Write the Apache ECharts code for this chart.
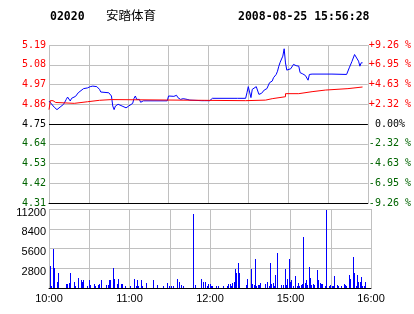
<!DOCTYPE html>
<html><head><meta charset="utf-8">
<script src="https://cdn.jsdelivr.net/npm/echarts@6/dist/echarts.min.js"></script>
<style>html,body{margin:0;padding:0;background:#fff}#c{width:414px;height:314px}</style>
</head><body><div id="c"></div>
<script>
const stockCode = '02020';
const stockName = '安踏体育';
const stamp = '2008-08-25 15:56:28';
const prevClose = 4.75;
const priceTickLabels = ['4.31','4.42','4.53','4.64','4.75','4.86','4.97','5.08','5.19'];
const pctTickLabels = ['-9.26 %','-6.95 %','-4.63 %','-2.32 %',' 0.00%','+2.32 %','+4.63 %','+6.95 %','+9.26 %'];
const timeTickMinutes = [0, 60, 120, 180, 240];
const timeTickLabels = ['10:00','11:00','12:00','15:00','16:00'];
const volMax = 11200;

const priceMinutes = [0,1,4,6,7,9,11,13,14,15,16,17,18,20,22,23,26,27,29,31,33,34,36,38,39,45,47,48,49,50,52,53,55,58,60,63,64,65,66,68,69,71,89,90,91,94,96,97,99,100,101,104,106,115,116,117,118,121,123,140,141,142,148,149,150,152,153,156,158,159,160,162,164,166,168,169,171,172,173,174,176,177,178,179,180,182,184,186,188,189,191,193,195,196,198,213,214,224,226,228,230,231,233,234,235,236];
const priceValues = [4.878,4.88,4.843,4.83,4.828,4.848,4.86,4.887,4.90,4.91,4.878,4.893,4.893,4.904,4.924,4.932,4.947,4.939,4.951,4.958,4.961,4.965,4.958,4.943,4.928,4.924,4.906,4.85,4.83,4.85,4.86,4.869,4.85,4.84,4.85,4.865,4.893,4.906,4.887,4.887,4.871,4.879,4.879,4.906,4.898,4.904,4.91,4.897,4.887,4.894,4.891,4.887,4.883,4.88,4.891,4.88,4.891,4.88,4.893,4.893,4.90,4.893,4.893,4.924,4.958,4.897,4.943,4.958,4.915,4.906,4.921,4.939,4.947,4.98,4.989,5.008,5.026,5.044,5.072,5.094,5.128,5.169,5.09,5.05,5.041,5.058,5.082,5.075,5.072,5.036,5.029,5.02,4.994,5.026,5.028,5.028,5.02,5.026,5.063,5.098,5.137,5.133,5.10,5.072,5.091,5.091];

const avgMinutes = [0,1,3,5,19,29,38,47,148,163,168,178,188,198,208,225,236];
const avgValues = [4.83,4.88,4.87,4.865,4.874,4.882,4.886,4.88,4.883,4.891,4.902,4.919,4.930,4.939,4.947,4.956,4.956];

const volMinutes = [1,2,3,4,6,7,13,14,15,16,19,20,22,24,25,26,29,30,31,34,35,37,38,39,43,44,45,46,48,49,51,52,54,55,57,61,64,65,66,67,69,70,73,78,81,85,88,90,91,93,96,97,99,100,108,109,114,115,117,118,119,120,121,122,125,126,130,133,134,135,136,137,138,139,140,141,142,147,148,151,152,153,154,155,156,157,158,161,163,164,165,166,167,168,169,170,173,175,176,177,178,179,180,181,182,184,185,186,187,188,189,190,191,192,193,194,195,196,197,198,200,201,202,203,204,206,207,209,210,211,212,213,215,216,218,220,221,222,224,225,227,228,229,230,231,232,233,234,235,236];
const volValues = [3180,330,5460,2900,850,2140,570,570,710,2140,850,330,1420,1140,850,1140,330,1140,475,570,240,475,570,1140,475,475,1140,1140,2900,1330,570,1330,570,570,280,280,1330,280,1140,330,1140,330,710,1140,475,330,710,330,330,330,1330,850,475,330,10440,475,1330,850,850,330,570,570,330,330,330,330,330,330,570,570,330,710,850,2750,2140,3560,2140,475,1330,2750,570,475,4180,330,475,475,710,570,850,330,3560,570,710,330,1900,4980,475,475,2750,475,1330,4180,850,1140,330,1760,330,710,330,475,570,7170,710,1140,475,3040,1470,475,570,475,2610,1140,710,570,570,330,11010,330,475,330,330,1760,475,330,330,570,475,330,1900,1330,4460,2140,330,1900,850,850,1610,330,330,850];

const GRID = '#c0c0c0';
const RED = '#ff0000', GREEN = '#006400', BLUE = '#0000ff';
const monoFont = '"DejaVu Sans Mono", monospace';
const sansFont = '"Liberation Sans", Arial, sans-serif';

function zip(a, b) { return a.map((v, i) => [v, b[i]]); }
function tickColor(i) { return i > 4 ? RED : (i < 4 ? GREEN : '#000'); }

const chart = echarts.init(document.getElementById('c'), null, {renderer: 'canvas'});
const lastIdx = priceTickLabels.length - 1;
chart.setOption({
  animation: false,
  backgroundColor: '#fff',
  graphic: [
    {type: 'text', left: 50, top: 11, style: {text: stockCode, font: 'bold 11.5px ' + monoFont, fill: '#000'}},
    {type: 'text', left: 106, top: 9, style: {text: stockName, font: '12.5px "Noto Sans CJK SC"', fill: '#000'}},
    {type: 'text', left: 238, top: 11, style: {text: stamp, font: 'bold 11.5px ' + monoFont, fill: '#000'}}
  ],
  grid: [
    {left: 49, right: 43, top: 45, height: 158},
    {left: 49, right: 43, top: 209, height: 79}
  ],
  xAxis: [
    {type: 'value', gridIndex: 0, min: 0, max: 240, interval: 30,
     axisLine: {show: true, lineStyle: {color: '#000', width: 1}}, axisTick: {show: false}, axisLabel: {show: false},
     splitLine: {show: true, lineStyle: {color: GRID, width: 1}}},
    {type: 'value', gridIndex: 1, min: 0, max: 240, interval: 30,
     axisLine: {show: true, lineStyle: {color: '#000', width: 1}}, axisTick: {show: false},
     axisLabel: {show: true, margin: 5, color: '#000', fontFamily: sansFont, fontSize: 11, showMinLabel: true, showMaxLabel: true,
       formatter: v => { const i = timeTickMinutes.indexOf(v); return i >= 0 ? timeTickLabels[i] : ''; }},
     splitLine: {show: true, lineStyle: {color: GRID, width: 1}}}
  ],
  yAxis: [
    {type: 'value', gridIndex: 0, min: 0, max: lastIdx, interval: 1, position: 'left',
     axisLine: {show: false}, axisTick: {show: false},
     axisLabel: {margin: 3, fontFamily: monoFont, fontSize: 10, formatter: v => priceTickLabels[v] || '', color: (v) => tickColor(v)},
     splitLine: {show: true, lineStyle: {color: GRID, width: 1}}},
    {type: 'value', gridIndex: 0, min: 0, max: lastIdx, interval: 1, position: 'right',
     axisLine: {show: false}, axisTick: {show: false},
     axisLabel: {margin: 1, fontFamily: monoFont, fontSize: 10, formatter: v => pctTickLabels[v] || '', color: (v) => tickColor(v)},
     splitLine: {show: false}},
    {type: 'value', gridIndex: 0, min: parseFloat(priceTickLabels[0]), max: parseFloat(priceTickLabels[lastIdx]), show: false,
     splitLine: {show: false}},
    {type: 'value', gridIndex: 1, min: 0, max: volMax, interval: volMax / 4,
     axisLine: {show: false}, axisTick: {show: false},
     axisLabel: {margin: 3, color: '#000', fontFamily: sansFont, fontSize: 11, verticalAlign: 'top', lineHeight: 7,
       formatter: v => v === 0 ? '' : String(v)},
     splitLine: {show: true, lineStyle: {color: GRID, width: 1}}}
  ],
  series: [
    {type: 'line', xAxisIndex: 0, yAxisIndex: 2, data: zip(priceMinutes, priceValues), showSymbol: false, symbol: 'none',
     lineStyle: {color: BLUE, width: 1}, z: 3,
     markLine: {silent: true, symbol: 'none', label: {show: false}, animation: false,
       lineStyle: {color: '#000', type: 'solid', width: 1}, data: [{yAxis: prevClose}]}},
    {type: 'line', xAxisIndex: 0, yAxisIndex: 2, data: zip(avgMinutes, avgValues), step: 'end', showSymbol: false, symbol: 'none',
     lineStyle: {color: RED, width: 1}, z: 4},
    {type: 'custom', xAxisIndex: 1, yAxisIndex: 3, data: zip(volMinutes, volValues), encode: {x: 0, y: 1}, z: 3,
     renderItem: (params, api) => {
       const top = api.coord([api.value(0), api.value(1)]);
       const base = api.coord([api.value(0), 0]);
       const x = Math.floor(top[0]);
       const y0 = Math.round(top[1]);
       return {type: 'rect', shape: {x: x, y: y0, width: 1, height: Math.round(base[1]) - y0},
               style: {fill: BLUE}};
     }}
  ]
});
</script></body></html>
